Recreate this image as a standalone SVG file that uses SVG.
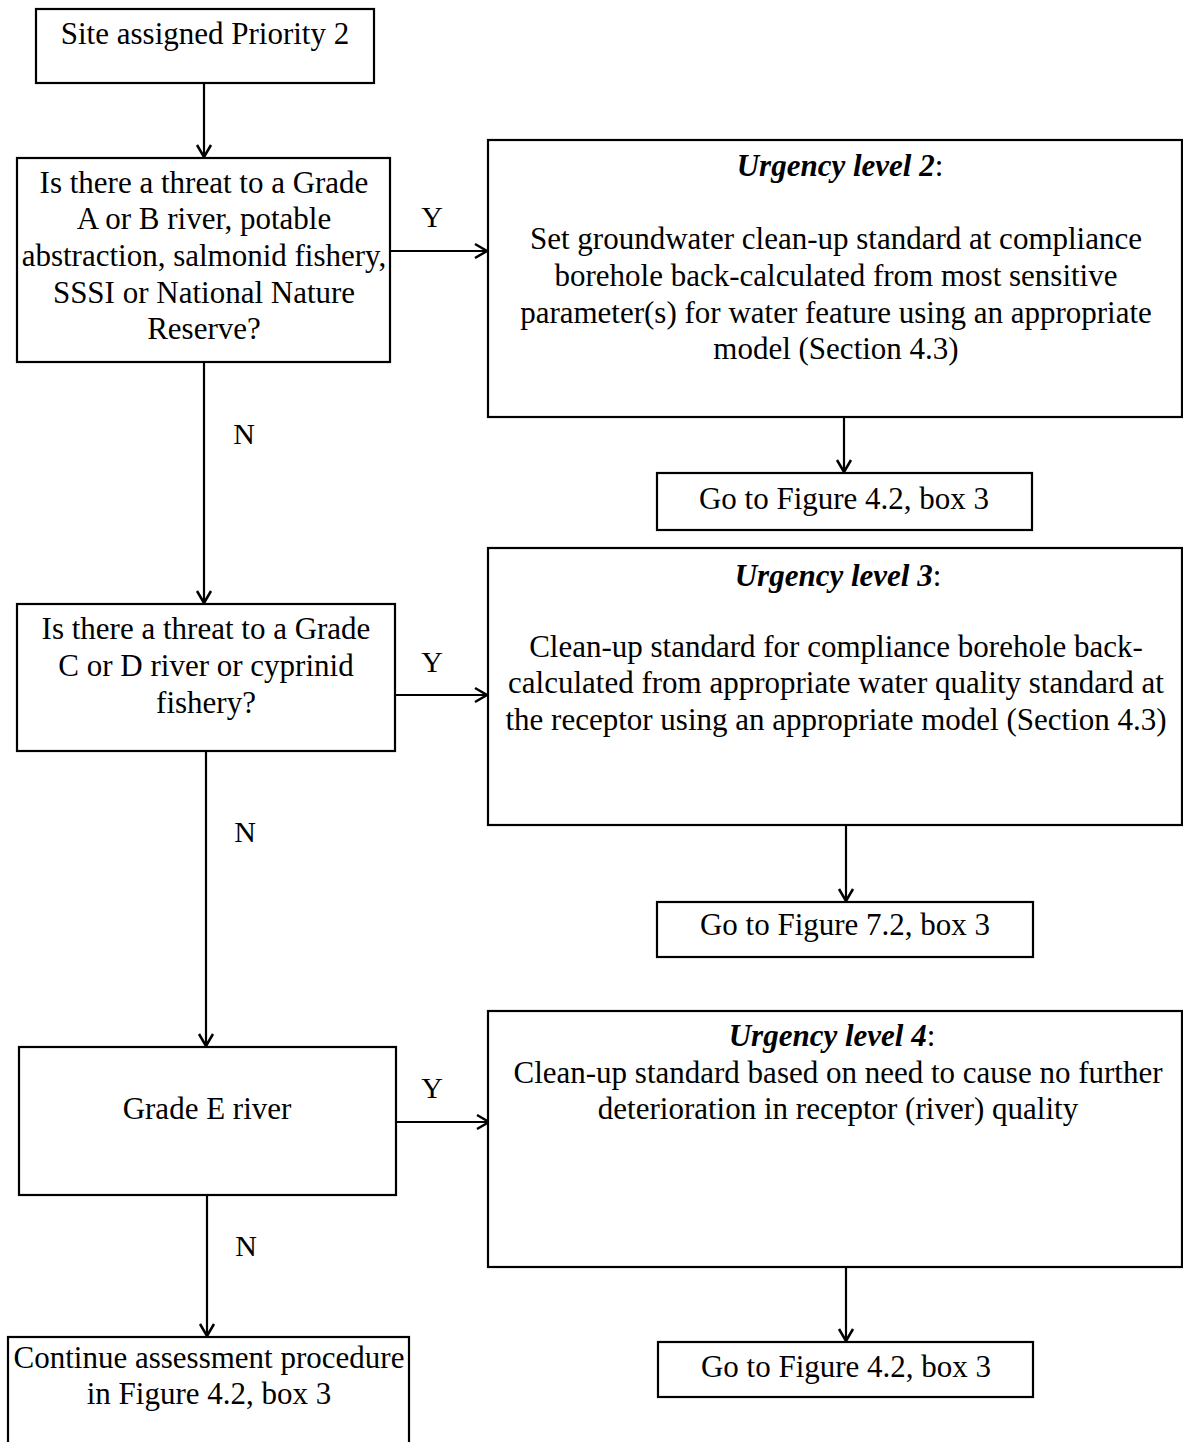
<svg xmlns="http://www.w3.org/2000/svg" width="1183" height="1442" viewBox="0 0 1183 1442">
  <defs>
    <marker id="arrow" markerWidth="18" markerHeight="18" refX="14" refY="9" orient="auto" markerUnits="userSpaceOnUse">
      <path d="M2,2 L14,9 L2,16" fill="none" stroke="#000" stroke-width="2.5"/>
    </marker>
    <style>
      .box { fill: #fff; stroke: #000; stroke-width: 2.2; }
      .t { font-family: "Liberation Serif", "Times New Roman", serif; font-size: 31px; fill: #000; text-anchor: middle; }
      .lbl { font-family: "Liberation Serif", "Times New Roman", serif; font-size: 30px; fill: #000; text-anchor: middle; }
      .u { font-weight: bold; font-style: italic; }
      .edge { stroke: #000; stroke-width: 2.2; fill: none; marker-end: url(#arrow); }
    </style>
  </defs>

  <rect width="1183" height="1442" fill="#fff"/>

  <!-- connectors -->
  <g id="connectors">
    <line class="edge" x1="204" y1="83" x2="204" y2="157"/>
    <line class="edge" x1="204" y1="362" x2="204" y2="603"/>
    <line class="edge" x1="206" y1="751" x2="206" y2="1046"/>
    <line class="edge" x1="207" y1="1195" x2="207" y2="1336"/>
    <line class="edge" x1="390" y1="251" x2="487" y2="251"/>
    <line class="edge" x1="395" y1="695" x2="487" y2="695"/>
    <line class="edge" x1="396" y1="1122" x2="489" y2="1122"/>
    <line class="edge" x1="844" y1="417" x2="844" y2="472"/>
    <line class="edge" x1="846" y1="825" x2="846" y2="901"/>
    <line class="edge" x1="846" y1="1267" x2="846" y2="1341"/>
    <text class="lbl" x="432" y="227">Y</text>
    <text class="lbl" x="432" y="672">Y</text>
    <text class="lbl" x="432" y="1098">Y</text>
    <text class="lbl" x="244" y="444">N</text>
    <text class="lbl" x="245" y="842">N</text>
    <text class="lbl" x="246" y="1256">N</text>
  </g>

  <!-- nodes -->
  <g id="start">
    <rect class="box" x="36" y="9" width="338" height="74"/>
    <text class="t" x="205" y="44">Site assigned Priority 2</text>
  </g>

  <g id="q1">
    <rect class="box" x="17" y="158" width="373" height="204"/>
    <text class="t" x="204" y="193">Is there a threat to a Grade</text>
    <text class="t" x="204" y="229">A or B river, potable</text>
    <text class="t" x="204" y="266">abstraction, salmonid fishery,</text>
    <text class="t" x="204" y="303">SSSI or National Nature</text>
    <text class="t" x="204" y="339">Reserve?</text>
  </g>

  <g id="urgency2">
    <rect class="box" x="488" y="140" width="694" height="277"/>
    <text class="t" x="840" y="176"><tspan class="u">Urgency level 2</tspan>:</text>
    <text class="t" x="836" y="249">Set groundwater clean-up standard at compliance</text>
    <text class="t" x="836" y="286">borehole back-calculated from most sensitive</text>
    <text class="t" x="836" y="323">parameter(s) for water feature using an appropriate</text>
    <text class="t" x="836" y="359">model (Section 4.3)</text>
  </g>

  <g id="goto1">
    <rect class="box" x="657" y="473" width="375" height="57"/>
    <text class="t" x="844" y="509">Go to Figure 4.2, box 3</text>
  </g>

  <g id="q2">
    <rect class="box" x="17" y="604" width="378" height="147"/>
    <text class="t" x="206" y="639">Is there a threat to a Grade</text>
    <text class="t" x="206" y="676">C or D river or cyprinid</text>
    <text class="t" x="206" y="713">fishery?</text>
  </g>

  <g id="urgency3">
    <rect class="box" x="488" y="548" width="694" height="277"/>
    <text class="t" x="838" y="586"><tspan class="u">Urgency level 3</tspan>:</text>
    <text class="t" x="836" y="657">Clean-up standard for compliance borehole back-</text>
    <text class="t" x="836" y="693">calculated from appropriate water quality standard at</text>
    <text class="t" x="836" y="730">the receptor using an appropriate model (Section 4.3)</text>
  </g>

  <g id="goto2">
    <rect class="box" x="657" y="902" width="376" height="55"/>
    <text class="t" x="845" y="935">Go to Figure 7.2, box 3</text>
  </g>

  <g id="gradeE">
    <rect class="box" x="19" y="1047" width="377" height="148"/>
    <text class="t" x="207" y="1119">Grade E river</text>
  </g>

  <g id="urgency4">
    <rect class="box" x="488" y="1011" width="694" height="256"/>
    <text class="t" x="832" y="1046"><tspan class="u">Urgency level 4</tspan>:</text>
    <text class="t" x="838" y="1083">Clean-up standard based on need to cause no further</text>
    <text class="t" x="838" y="1119">deterioration in receptor (river) quality</text>
  </g>

  <g id="goto3">
    <rect class="box" x="658" y="1342" width="375" height="55"/>
    <text class="t" x="846" y="1377">Go to Figure 4.2, box 3</text>
  </g>

  <g id="continue">
    <rect class="box" x="8" y="1337" width="401" height="115"/>
    <text class="t" x="209" y="1368">Continue assessment procedure</text>
    <text class="t" x="209" y="1404">in Figure 4.2, box 3</text>
  </g>
</svg>
